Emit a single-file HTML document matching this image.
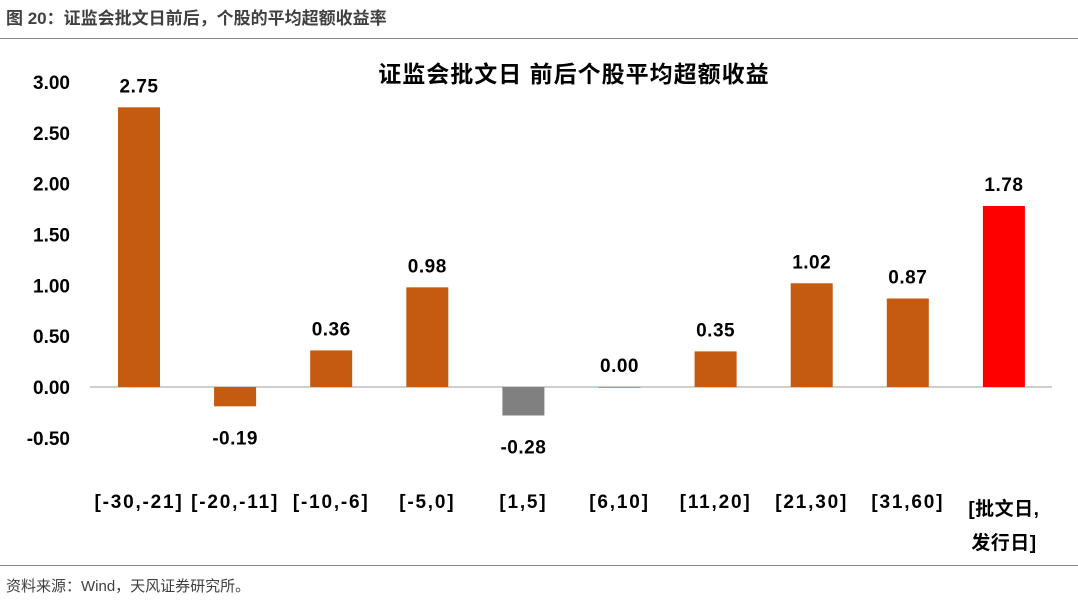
<!DOCTYPE html>
<html><head><meta charset="utf-8">
<style>
body{margin:0;width:1078px;height:607px;background:#fff;overflow:hidden;font-family:"Liberation Sans","Noto Sans CJK SC",sans-serif;}
#hdr{position:absolute;left:6px;top:4px;font-size:17px;font-weight:bold;color:#404040;}
#l1{position:absolute;left:0;top:38px;width:1078px;height:1px;background:#888;}
#l2{position:absolute;left:0;top:565px;width:1078px;height:1px;background:#888;}
#src{position:absolute;left:6px;top:575px;font-size:15px;color:#404040;}
svg{position:absolute;left:0;top:0;}
</style></head><body>
<div id="hdr">图 20：证监会批文日前后，个股的平均超额收益率</div>
<div id="l1"></div>
<svg id="chart" width="1078" height="607"></svg>
<div id="l2"></div>
<div id="src">资料来源：Wind，天风证券研究所。</div>
<script>
const categories=["[-30,-21]","[-20,-11]","[-10,-6]","[-5,0]","[1,5]","[6,10]","[11,20]","[21,30]","[31,60]","[批文日,|发行日]"];
const values=[2.75,-0.19,0.36,0.98,-0.28,0.00,0.35,1.02,0.87,1.78];
const colors=["#C55A11","#C55A11","#C55A11","#C55A11","#808080","#C55A11","#C55A11","#C55A11","#C55A11","#FF0000"];
const ticks=[3.00,2.50,2.00,1.50,1.00,0.50,0.00,-0.50];
const NS="http://www.w3.org/2000/svg";
const svg=document.getElementById('chart');
const y=v=>387-v*101.7;
const x=i=>139+i*96.1;
function mk(t,a,txt){const e=document.createElementNS(NS,t);for(const k in a)e.setAttribute(k,a[k]);if(txt!==undefined)e.textContent=txt;svg.appendChild(e);return e;}
const ti=mk('text',{x:574,y:82,'text-anchor':'middle','font-size':23,'font-weight':'bold',fill:'#000','letter-spacing':1},'证监会批文日  前后个股平均超额收益');


ticks.forEach(t=>{const e=mk('text',{x:70,y:y(t)+7,'text-anchor':'end','font-size':19,'font-weight':'bold',fill:'#000'},t.toFixed(2));

});
const ax=mk('line',{x1:90,x2:1052,y1:387,y2:387,stroke:'#bfbfbf','stroke-width':1.5});


values.forEach((v,i)=>{
const top=Math.min(y(v),387),h=Math.max(Math.abs(y(v)-387),0.6);
const r=mk('rect',{x:x(i)-21,y:top,width:42,height:h,fill:colors[i]});


const ly=v>=0?y(v)-15:y(v)+38;
const l=mk('text',{x:x(i),y:ly,'text-anchor':'middle','font-size':19,'font-weight':'bold',fill:'#000','letter-spacing':0.5},v.toFixed(2));


const parts=categories[i].split('|');
parts.forEach((p,j)=>{const c=mk('text',{x:x(i),y:(parts.length>1?515:508)+j*34,'text-anchor':'middle','font-size':19,'font-weight':'bold',fill:'#000','letter-spacing':parts.length>1?0.5:1.8},p);

});
});
</script>
</body></html>
